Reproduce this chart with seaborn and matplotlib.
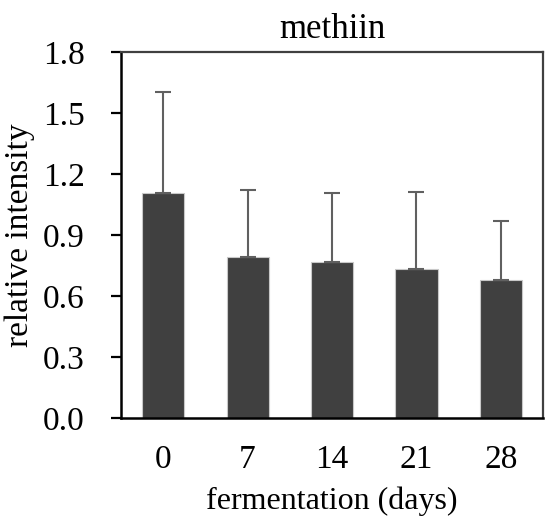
import numpy as np
import pandas as pd
import seaborn as sns
import matplotlib.pyplot as plt

# values
days = ["0", "7", "14", "21", "28"]
mean_intensity = [1.105, 0.792, 0.770, 0.733, 0.679]
upper_sd = [0.500, 0.329, 0.338, 0.379, 0.292]
y_ticks = [0.0, 0.3, 0.6, 0.9, 1.2, 1.5, 1.8]

df = pd.DataFrame({"days": days, "intensity": mean_intensity, "sd": upper_sd})

sns.set_theme(style="white")
plt.rcParams["font.family"] = ["Liberation Serif", "DejaVu Serif"]
plt.rcParams["text.color"] = "black"
plt.rcParams["axes.labelcolor"] = "black"
plt.rcParams["xtick.color"] = "black"
plt.rcParams["ytick.color"] = "black"

fig = plt.figure(figsize=(5.48, 5.17), dpi=100)
ax = fig.add_axes([0.2208, 0.1909, 0.7701, 0.7085])

sns.barplot(data=df, x="days", y="intensity", color="#404040", width=0.5,
            saturation=1, edgecolor="#c8c8c8", linewidth=0.8, errorbar=None, ax=ax)

# upper error bars only
centers = [p.get_x() + p.get_width() / 2 for p in ax.patches]
heights = [p.get_height() for p in ax.patches]
ax.errorbar(centers, heights, yerr=[np.zeros(len(upper_sd)), df["sd"]],
            fmt="none", ecolor="#606060", elinewidth=1.5, capsize=6, capthick=1.5)

ax.set_ylim(0, 1.8)
ax.set_xlim(-0.5, 4.5)
ax.set_yticks(y_ticks)
ax.set_yticklabels([f"{v:.1f}" for v in y_ticks])

ax.tick_params(axis="y", direction="out", length=7, width=1.6, color="black",
               labelcolor="black", pad=19, labelsize=24, left=True)
ax.tick_params(axis="x", length=0, pad=19, labelsize=24, labelcolor="black")

for side in ["left", "bottom"]:
    ax.spines[side].set_color("black")
    ax.spines[side].set_linewidth(1.8)
for side in ["top", "right"]:
    ax.spines[side].set_color("#404040")
    ax.spines[side].set_linewidth(1.6)

ax.set_xlabel("fermentation (days)", fontsize=23, labelpad=8, color="black")
ax.set_ylabel("relative intensity", fontsize=24, labelpad=6, color="black")
ax.set_title("methiin", fontsize=25, pad=10, color="black")

fig.savefig("out.png", dpi=100)
